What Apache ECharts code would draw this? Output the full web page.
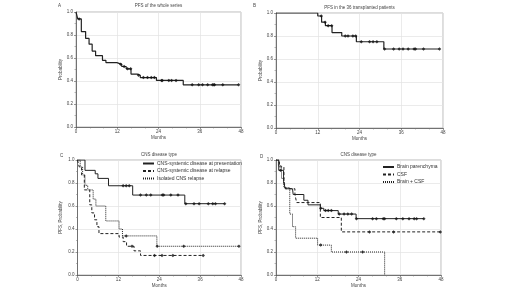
<!DOCTYPE html>
<html><head><meta charset="utf-8">
<script src="https://cdn.jsdelivr.net/npm/echarts@6/dist/echarts.min.js"></script>
<style>html,body{margin:0;padding:0;background:#fff}#c{width:520px;height:292px}</style>
</head><body><div id="c"></div>
<script>
// Panel A: PFS of the whole series
var aTimes = [0, 0.5, 1.55, 2.8, 3.8, 4.7, 5.7, 7.7, 8.7, 11.9, 13.3, 14.6, 16.0, 17.8, 18.7, 23.4, 31.2, 47.3];
var aSurv  = [1.0, 0.94, 0.83, 0.77, 0.72, 0.66, 0.62, 0.58, 0.56, 0.545, 0.526, 0.506, 0.46, 0.45, 0.43, 0.405, 0.367, 0.367];
var aCens  = [0.9, 13.0, 14.0, 15.0, 15.9, 18.2, 19.6, 20.8, 21.9, 22.8, 24.9, 25.1, 27.0, 27.8, 29.1, 33.8, 35.7, 36.8, 38.3, 39.7, 40.1, 40.3, 42.7, 47.3];
// Panel B: PFS in the 36 transplanted patients
var bTimes = [0, 12.0, 13.1, 14.2, 16.1, 18.9, 23.1, 31.0, 47.0];
var bSurv  = [1.0, 0.974, 0.92, 0.89, 0.83, 0.80, 0.75, 0.687, 0.687];
var bCens  = [13.0, 14.1, 15.0, 16.0, 19.9, 20.7, 22.1, 22.9, 24.5, 26.9, 27.9, 29.0, 31.2, 33.8, 35.4, 36.5, 38.0, 39.7, 40.1, 42.4, 47.0];
// Panel C: CNS disease type
var cNames = ['CNS-systemic disease at presentation', 'CNS-systemic disease at relapse', 'Isolated CNS relapse'];
var c1Times = [0, 2.2, 5.2, 6.0, 9.1, 16.2, 31.5, 43.2];
var c1Surv  = [1.0, 0.91, 0.88, 0.84, 0.776, 0.695, 0.62, 0.62];
var c1Cens  = [13.4, 14.3, 15.2, 18.5, 20.2, 21.5, 24.9, 25.3, 27.4, 29.5, 31.8, 34.2, 35.7, 38.4, 39.7, 40.5, 43.2];
var c2Times = [0, 0.5, 1.2, 2.0, 3.6, 4.2, 5.0, 5.7, 6.3, 12.2, 13.4, 14.4, 16.6, 18.5, 36.9];
var c2Surv  = [1.0, 0.94, 0.87, 0.74, 0.61, 0.54, 0.48, 0.42, 0.36, 0.33, 0.29, 0.25, 0.21, 0.17, 0.17];
var c2Cens  = [16.0, 22.6, 24.8, 28.0, 36.9];
var c3Times = [0, 0.8, 1.5, 2.2, 3.0, 4.6, 5.4, 8.3, 12.2, 13.2, 23.3, 47.4];
var c3Surv  = [1.0, 0.94, 0.87, 0.78, 0.74, 0.66, 0.60, 0.47, 0.40, 0.34, 0.25, 0.25];
var c3Cens  = [14.3, 23.4, 31.2, 47.4];
// Panel D: CNS disease type
var dNames = ['Brain parenchyma', 'CSF', 'Brain + CSF'];
var d1Times = [0, 0.8, 2.2, 2.7, 4.8, 5.0, 8.1, 9.3, 12.9, 13.9, 18.1, 23.3, 43.0];
var d1Surv  = [1.0, 0.91, 0.81, 0.75, 0.74, 0.70, 0.65, 0.61, 0.58, 0.56, 0.53, 0.49, 0.49];
var d1Cens  = [1.3, 13.0, 14.4, 15.2, 16.1, 18.4, 19.8, 20.9, 22.0, 23.4, 28.1, 29.2, 31.2, 31.6, 35.0, 36.9, 38.7, 40.2, 40.9, 43.0];
var d2Times = [0, 1.0, 2.3, 2.8, 5.5, 6.0, 12.9, 19.0, 47.8];
var d2Surv  = [1.0, 0.94, 0.81, 0.75, 0.70, 0.63, 0.50, 0.375, 0.375];
var d2Cens  = [27.2, 34.2, 47.8];
var d3Times = [0, 0.7, 1.6, 2.3, 4.0, 4.8, 5.7, 12.1, 16.1, 31.6];
var d3Surv  = [1.0, 0.95, 0.84, 0.76, 0.53, 0.42, 0.32, 0.26, 0.20, 0.0];
var d3Cens  = [13.0, 20.5, 25.2];
var xTicks = [0, 12, 24, 36, 48];
var yTicks = [0.0, 0.2, 0.4, 0.6, 0.8, 1.0];

function survAt(T, S, t) {
  var v = S[0];
  for (var i = 0; i < T.length; i++) { if (T[i] <= t) v = S[i]; }
  return v;
}
var FONT = 'Liberation Sans';
var grids = [
  {left: 76, top: 12, width: 165, height: 115},
  {left: 276, top: 13, width: 167, height: 115},
  {left: 77.5, top: 160, width: 163.5, height: 115},
  {left: 276, top: 160, width: 165, height: 115}
];
var yNames = ['Probability', 'Probability', 'PFS, Probability', 'PFS, Probability'];
var yGaps = [13, 12, 14, 12];
var xGaps = [7, 7, 7, 6];
var xAxes = [], yAxes = [];
for (var g = 0; g < 4; g++) {
  grids[g].show = true; grids[g].borderColor = '#aaa'; grids[g].borderWidth = 0.8;
  xAxes.push({
    type: 'value', gridIndex: g, min: 0, max: 48, interval: 12,
    name: 'Months', nameLocation: 'middle', nameGap: xGaps[g],
    nameTextStyle: {fontSize: 4.5, color: '#444', fontFamily: FONT},
    axisLine: {show: true, onZero: false, lineStyle: {color: '#555', width: 0.8}},
    axisTick: {show: true, length: 2, inside: false, lineStyle: {color: '#555', width: 0.6}},
    minorTick: {show: true, splitNumber: 3, length: 1.5, lineStyle: {color: '#777', width: 0.5}},
    axisLabel: {fontSize: 4.5, color: '#444', margin: 2, fontFamily: FONT,
      formatter: function (v) { return xTicks.indexOf(v) >= 0 ? String(v) : ''; }},
    splitLine: {show: true, lineStyle: {color: '#e2e2e2', width: 0.7}}
  });
  yAxes.push({
    type: 'value', gridIndex: g, min: 0, max: 1, interval: 0.2,
    name: yNames[g], nameLocation: 'middle', nameGap: yGaps[g], nameRotate: 90,
    nameTextStyle: {fontSize: 4.5, color: '#444', fontFamily: FONT},
    axisLine: {show: true, lineStyle: {color: '#555', width: 0.8}},
    axisTick: {show: true, length: 2, lineStyle: {color: '#555', width: 0.6}},
    minorTick: {show: true, splitNumber: 2, length: 1.5, lineStyle: {color: '#777', width: 0.5}},
    axisLabel: {fontSize: 4.5, color: '#444', margin: 3, fontFamily: FONT,
      formatter: function (v) { return v.toFixed(1); }},
    splitLine: {show: true, lineStyle: {color: '#e2e2e2', width: 0.7}}
  });
}
var series = [];
function km(name, T, S, C, gi, ltype, lw) {
  series.push({
    name: name, type: 'line', step: 'end', xAxisIndex: gi, yAxisIndex: gi,
    data: T.map(function (t, i) { return [t, S[i]]; }),
    symbol: 'none', animation: false,
    lineStyle: {color: '#222', width: lw, type: ltype}, itemStyle: {color: '#222'}
  });
  series.push({
    type: 'scatter', xAxisIndex: gi, yAxisIndex: gi, animation: false,
    data: C.map(function (t) { return [t, survAt(T, S, t)]; }),
    symbol: 'diamond', symbolSize: 3.5, itemStyle: {color: '#111'}, z: 5
  });
}
km('A', aTimes, aSurv, aCens, 0, 'solid', 1.2);
km('B', bTimes, bSurv, bCens, 1, 'solid', 1.2);
km(cNames[0], c1Times, c1Surv, c1Cens, 2, 'solid', 1);
km(cNames[1], c2Times, c2Surv, c2Cens, 2, [3, 2], 1);
km(cNames[2], c3Times, c3Surv, c3Cens, 2, [1, 1], 1);
km(dNames[0], d1Times, d1Surv, d1Cens, 3, 'solid', 1);
km(dNames[1], d2Times, d2Surv, d2Cens, 3, [3, 2], 1);
km(dNames[2], d3Times, d3Surv, d3Cens, 3, [1, 1], 1);

var titleStyle = {fontSize: 4.5, fontWeight: 'normal', color: '#444', fontFamily: FONT};
var legendText = {fontSize: 5, color: '#333', fontFamily: FONT, padding: [0, 0, 0, -2]};
var option = {
  backgroundColor: '#fff',
  animation: false,
  grid: grids, xAxis: xAxes, yAxis: yAxes, series: series,
  title: [
    {text: 'PFS of the whole series', left: 158.5, top: 3, padding: 0, textAlign: 'center', textStyle: titleStyle},
    {text: 'PFS in the 36 transplanted patients', left: 359.5, top: 5, padding: 0, textAlign: 'center', textStyle: titleStyle},
    {text: 'CNS disease type', left: 159, top: 152, padding: 0, textAlign: 'center', textStyle: titleStyle},
    {text: 'CNS disease type', left: 358.5, top: 152, padding: 0, textAlign: 'center', textStyle: titleStyle}
  ],
  legend: [
    {data: cNames, orient: 'vertical', left: 142, top: 161, itemWidth: 11, itemHeight: 4, itemGap: 2.5,
     itemStyle: {opacity: 0}, textStyle: legendText, padding: 0},
    {data: dNames, orient: 'vertical', left: 382, top: 164.5, itemWidth: 11, itemHeight: 4, itemGap: 2.5,
     itemStyle: {opacity: 0}, textStyle: legendText, padding: 0}
  ],
  graphic: [
    {type: 'text', left: 58, top: 3, style: {text: 'A', fontSize: 4.5, fill: '#444', fontFamily: FONT}},
    {type: 'text', left: 253, top: 3, style: {text: 'B', fontSize: 4.5, fill: '#444', fontFamily: FONT}},
    {type: 'text', left: 60, top: 153, style: {text: 'C', fontSize: 4.5, fill: '#444', fontFamily: FONT}},
    {type: 'text', left: 260, top: 154, style: {text: 'D', fontSize: 4.5, fill: '#444', fontFamily: FONT}}
  ]
};
var chart = echarts.init(document.getElementById('c'), null, {renderer: 'canvas'});
chart.setOption(option);
</script></body></html>
